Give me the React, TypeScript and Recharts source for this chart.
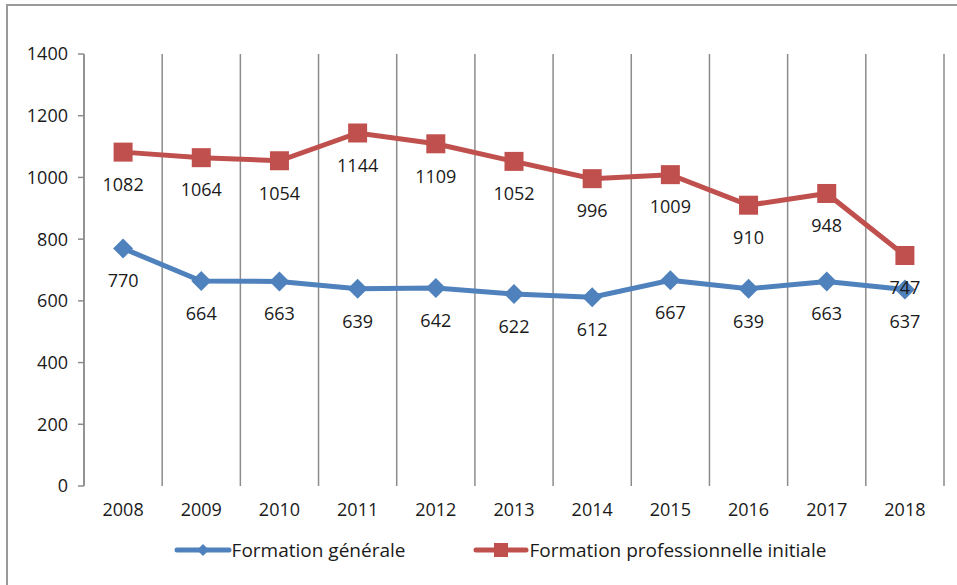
import React from 'react';
import {
  LineChart,
  Line,
  XAxis,
  YAxis,
  CartesianGrid,
  Legend,
  LabelList,
} from 'recharts';

const years = ['2008', '2009', '2010', '2011', '2012', '2013', '2014', '2015', '2016', '2017', '2018'];
const generale = [770, 664, 663, 639, 642, 622, 612, 667, 639, 663, 637];
const professionnelle = [1082, 1064, 1054, 1144, 1109, 1052, 996, 1009, 910, 948, 747];
const yTicks = [0, 200, 400, 600, 800, 1000, 1200, 1400];

const BLUE = '#4F81BD';
const RED = '#C0504D';
const GRID = '#8c8c8c';
const FONT = '"Open Sans", sans-serif';

// x is the band centre on a numeric 0..11 scale so the grid can sit on the band edges
const data = years.map((year, i) => ({
  x: i + 0.5,
  year,
  gen: generale[i],
  pro: professionnelle[i],
}));
const edgeTicks = years.map((_, i) => i).concat(years.length);
const centreTicks = years.map((_, i) => i + 0.5);

const Diamond = (props: any) => {
  const { cx, cy } = props;
  if (cx == null || cy == null) return null;
  const r = 10;
  return (
    <path
      d={`M${cx},${cy - r}L${cx + r},${cy}L${cx},${cy + r}L${cx - r},${cy}Z`}
      fill={BLUE}
    />
  );
};

const Square = (props: any) => {
  const { cx, cy } = props;
  if (cx == null || cy == null) return null;
  const s = 9.5;
  return <rect x={cx - s} y={cy - s} width={s * 2} height={s * 2} fill={RED} />;
};

const LegendContent = () => (
  <div
    style={{
      display: 'flex',
      justifyContent: 'center',
      alignItems: 'center',
      height: 40,
      fontFamily: FONT,
      fontSize: 19,
      color: '#1a1a1a',
      paddingLeft: 48,
    }}
  >
    <svg width={58} height={20}>
      <line x1={3} y1={10} x2={55} y2={10} stroke={BLUE} strokeWidth={5} strokeLinecap="round" />
      <path d="M29,4L35,10L29,16L23,10Z" fill={BLUE} />
    </svg>
    <span style={{ marginRight: 68 }}>Formation générale</span>
    <svg width={56} height={20}>
      <line x1={3} y1={10} x2={53} y2={10} stroke={RED} strokeWidth={5} strokeLinecap="round" />
      <rect x={21} y={3} width={14} height={14} fill={RED} />
    </svg>
    <span>Formation professionnelle initiale</span>
  </div>
);

const gridX = ({ offset }: any) =>
  edgeTicks.map((t) => offset.left + (t / years.length) * offset.width);

export default function App() {
  return (
    <div
      style={{
        position: 'absolute',
        left: 0,
        top: 0,
        width: 957,
        height: 585,
        overflow: 'hidden',
        background: '#fff',
      }}
    >
      <div
        style={{
          position: 'absolute',
          left: 6,
          top: 4,
          width: 1000,
          height: 700,
          borderTop: '2px solid #9a9a9a',
          borderLeft: '2px solid #9a9a9a',
        }}
      />
      <div style={{ position: 'absolute', left: 0, top: 0 }}>
        <LineChart
          width={957}
          height={585}
          data={data}
          margin={{ top: 54, right: 13, bottom: 15, left: 8 }}
        >
          <CartesianGrid
            horizontal={false}
            vertical
            verticalCoordinatesGenerator={gridX}
            stroke={GRID}
            strokeWidth={1.5}
          />
          <XAxis
            xAxisId="edge"
            type="number"
            dataKey="x"
            domain={[0, years.length]}
            ticks={edgeTicks}
            tick={() => <g />}
            tickSize={7}
            height={0}
            stroke={GRID}
            strokeWidth={1.5}
            interval={0}
          />
          <XAxis
            xAxisId="label"
            type="number"
            dataKey="x"
            domain={[0, years.length]}
            ticks={centreTicks}
            tickFormatter={(v: number) => years[Math.floor(v)]}
            axisLine={false}
            tickLine={false}
            tickSize={0}
            tickMargin={17}
            height={44}
            tick={{ fontFamily: FONT, fontSize: 18, fill: '#1a1a1a' }}
            interval={0}
          />
          <YAxis
            domain={[0, 1400]}
            ticks={yTicks}
            width={76}
            tickSize={6}
            tickMargin={10}
            stroke={GRID}
            strokeWidth={1.5}
            tick={{ fontFamily: FONT, fontSize: 18, fill: '#1a1a1a' }}
            interval={0}
          />
          <Legend verticalAlign="bottom" content={<LegendContent />} />
          <Line
            xAxisId="edge"
            dataKey="gen"
            stroke={BLUE}
            strokeWidth={5}
            dot={<Diamond />}
            isAnimationActive={false}
          >
            <LabelList
              dataKey="gen"
              position="bottom"
              offset={26}
              style={{ fontFamily: FONT, fontSize: 18, fill: '#1a1a1a' }}
            />
          </Line>
          <Line
            xAxisId="edge"
            dataKey="pro"
            stroke={RED}
            strokeWidth={5}
            dot={<Square />}
            isAnimationActive={false}
          >
            <LabelList
              dataKey="pro"
              position="bottom"
              offset={26}
              style={{ fontFamily: FONT, fontSize: 18, fill: '#1a1a1a' }}
            />
          </Line>
        </LineChart>
      </div>
    </div>
  );
}
